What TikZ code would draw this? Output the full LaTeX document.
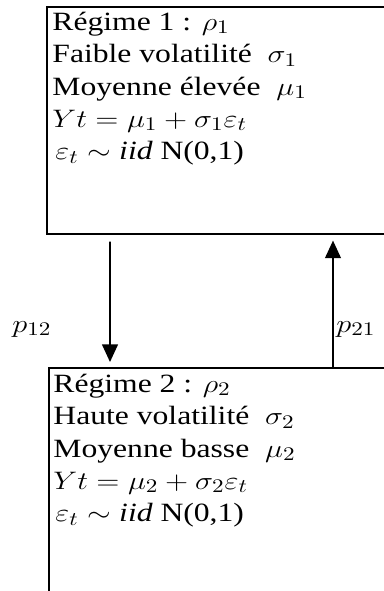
\documentclass[tikz,border=0pt]{standalone}
\usepackage{fontspec}
\setmainfont{Liberation Serif}
\usepackage{amssymb,amsmath}
\usetikzlibrary{arrows.meta}
\tikzset{
  regbox/.style={draw=black, line width=0.9pt, anchor=north west, inner sep=0pt},
  regtext/.style={anchor=base west, inner sep=0pt, xscale=1.2, transform shape,
    font=\fontsize{15}{18}\selectfont},
  regarrow/.style={-{Triangle[length=10pt,width=9pt]}, line width=0.9pt}
}

\begin{document}
\begin{tikzpicture}
  \useasboundingbox (0cm,0cm) rectangle (7.68cm,-11.82cm);
  \clip (0cm,0cm) rectangle (7.68cm,-11.82cm);
  \node[regbox, minimum width=7.08cm, minimum height=4.54cm] (reg1) at (0.92cm,-0.12cm) {};
  \node[regbox, minimum width=7.04cm, minimum height=5.00cm] (reg2) at (0.96cm,-7.34cm) {};
  % regime 1
  \node[regtext] (r1a) at (1.04cm,-0.60cm) {Régime 1 : $\rho_1$};
  \node[regtext] (r1b) at (1.04cm,-1.25cm) {Faible volatilité \ $\sigma_1$};
  \node[regtext] (r1c) at (1.04cm,-1.90cm) {Moyenne élevée \ $\mu_1$};
  \node[regtext] (r1d) at (1.04cm,-2.54cm) {$Yt = \mu_1 + \sigma_1\varepsilon_t$};
  \node[regtext] (r1e) at (1.10cm,-3.19cm) {$\varepsilon_t \sim \mathit{iid}$ N(0,1)};
  % regime 2
  \node[regtext] (r2a) at (1.06cm,-7.84cm) {Régime 2 : $\rho_2$};
  \node[regtext] (r2b) at (1.06cm,-8.49cm) {Haute volatilité \ $\sigma_2$};
  \node[regtext] (r2c) at (1.06cm,-9.14cm) {Moyenne basse \ $\mu_2$};
  \node[regtext] (r2d) at (1.06cm,-9.78cm) {$Yt = \mu_2 + \sigma_2\varepsilon_t$};
  \node[regtext] (r2e) at (1.10cm,-10.43cm) {$\varepsilon_t \sim \mathit{iid}$ N(0,1)};
  % transitions
  \node[regtext] (p12) at (0.24cm,-6.64cm) {$p_{12}$};
  \node[regtext] (p21) at (6.72cm,-6.64cm) {$p_{21}$};
  \draw[regarrow] ([shift={(1.28cm,-0.14cm)}]reg1.south west) -- ([shift={(1.24cm,0.10cm)}]reg2.north west);
  \draw[regarrow] ([xshift=5.70cm]reg2.north west) -- ([shift={(5.74cm,-0.12cm)}]reg1.south west);
\end{tikzpicture}
\end{document}
